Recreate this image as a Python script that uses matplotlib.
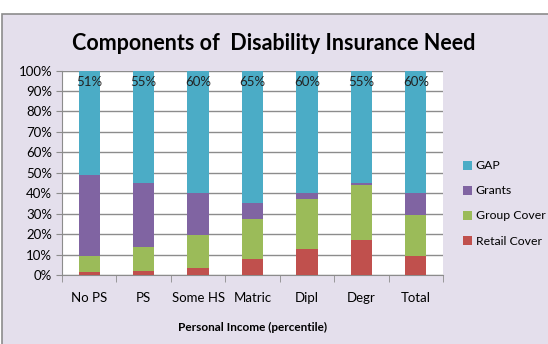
import numpy as np
import matplotlib.pyplot as plt
from matplotlib.patches import Rectangle

plt.rcParams['font.family'] = ['Lato', 'DejaVu Sans']

# Share of need by component, per group (percent, stacked to 100)
categories = ['No PS', 'PS', 'Some HS', 'Matric', 'Dipl', 'Degr', 'Total']
retail_cover = [1.6, 2.1, 3.6, 8.0, 12.7, 17.3, 9.5]
group_cover = [7.5, 11.6, 15.8, 19.4, 24.5, 26.9, 19.9]
grants = [39.9, 31.3, 20.6, 7.6, 2.8, 0.8, 10.6]
gap = [51, 55, 60, 65, 60, 55, 60]

series = [('Retail Cover', retail_cover, '#C0504D'),
          ('Group Cover', group_cover, '#9BBB59'),
          ('Grants', grants, '#8064A2'),
          ('GAP', gap, '#4BACC6')]

bg = '#E4DFEC'
fig = plt.figure(figsize=(5.48, 3.44), dpi=100)
fig.patch.set_facecolor('white')
# chart frame
fig.patches.append(Rectangle((2 / 548, -0.02), 1.0, (344 - 14) / 344 + 0.02,
                             transform=fig.transFigure, facecolor=bg,
                             edgecolor='#8C8C8C', linewidth=1.2, zorder=-1))

ax = fig.add_axes([62 / 548, 1 - 275 / 344, (443 - 62) / 548, (275 - 70.5) / 344])
ax.set_zorder(2)
ax.set_facecolor('white')

x = np.arange(len(categories))
bottom = np.zeros(len(categories))
handles = {}
for name, vals, col in series:
    vals = np.array(vals, dtype=float)
    handles[name] = ax.bar(x, vals, width=0.39, bottom=bottom, color=col,
                           edgecolor='none', zorder=3)
    bottom += vals

for xi, g in zip(x, gap):
    ax.text(xi, 100 - 2.5, f'{g}%', ha='center', va='top', fontsize=9.5,
            color='#222222', zorder=4)

ax.set_ylim(0, 100)
ax.set_xlim(-0.5, len(categories) - 0.5)
ax.set_yticks(np.arange(0, 101, 10))
ax.set_yticklabels([f'{v}%' for v in range(0, 101, 10)], fontsize=9.5)
ax.yaxis.grid(True, color='#8C8C8C', linewidth=1.0, zorder=0)
ax.set_axisbelow(True)
ax.set_xticks(x)
ax.set_xticklabels(categories, fontsize=9.5)
ax.set_xticks(np.arange(-0.5, len(categories)), minor=True)
ax.tick_params(axis='x', which='major', length=0, pad=12)
ax.tick_params(axis='x', which='minor', length=5, color='#8C8C8C')
ax.tick_params(axis='y', length=4, color='#8C8C8C', pad=3)
for s in ['top', 'right']:
    ax.spines[s].set_visible(False)
for s in ['left', 'bottom']:
    ax.spines[s].set_color('#8C8C8C')

ax.set_xlabel('Personal Income (percentile)', fontsize=8.5, fontweight='bold',
              labelpad=13)

fig.text(0.5, 1 - 43 / 344, 'Components of  Disability Insurance Need',
         ha='center', va='center', fontsize=15.5, fontweight='bold')

order = ['GAP', 'Grants', 'Group Cover', 'Retail Cover']
ax.legend([handles[n] for n in order], order, loc='center left',
          bbox_to_anchor=(1.02, 0.35), frameon=False, fontsize=8.8,
          handlelength=0.75, handleheight=0.75, handletextpad=0.3,
          labelspacing=1.15, borderaxespad=0.6)

fig.savefig('out.png', dpi=100, facecolor=fig.get_facecolor())
